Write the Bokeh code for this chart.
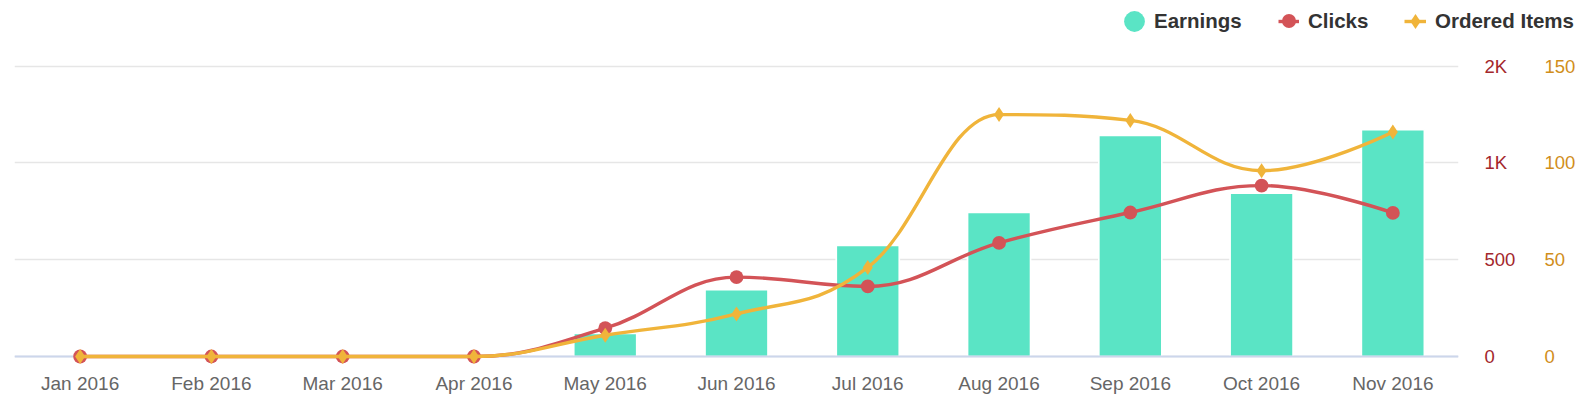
from bokeh.plotting import figure
from bokeh.models import Range1d, LinearAxis, FixedTicker, Legend, LegendItem
from bokeh.embed import file_html
from bokeh.resources import INLINE

# ---------------- data ----------------
months = ["Jan 2016", "Feb 2016", "Mar 2016", "Apr 2016", "May 2016", "Jun 2016",
          "Jul 2016", "Aug 2016", "Sep 2016", "Oct 2016", "Nov 2016"]
earnings = [0, 0, 0, 0, 23.8, 69.2, 114.7, 148.8, 228.4, 168.8, 234.3]
clicks = [0, 0, 0, 0, 146, 410, 362, 587, 744, 883, 742]
ordered_items = [0, 0, 0, 0, 11, 22, 46, 125, 122, 96, 116]

clicks_ticks = [0, 500, 1000, 1500]
clicks_tick_labels = ["0", "500", "1K", "2K"]
items_ticks = [0, 50, 100, 150]
items_tick_labels = ["0", "50", "100", "150"]

series_names = ["Earnings", "Clicks", "Ordered Items"]

# ---------------- styling ----------------
EARN_COLOR = "#5ae4c5"
CLICK_COLOR = "#d35357"
ITEM_COLOR = "#f0b43a"
CLICK_LABEL_COLOR = "#a3272c"
ITEM_LABEL_COLOR = "#d18e1b"
FONT = "Liberation Sans"

LEGEND_H = 40
FRAME_W, FRAME_H = 1444, 324
PX_PER_STEP = 96.77
PAD_BOTTOM = 8


def axis_range(step):
    per_px = step / PX_PER_STEP
    return Range1d(-PAD_BOTTOM * per_px, (FRAME_H - PAD_BOTTOM) * per_px)


def spline_segments(xs, ys, smoothing=1.5):
    """Highcharts-style spline control points -> cubic bezier segments."""
    n = len(xs)
    denom = smoothing + 1
    left = [None] * n
    right = [None] * n
    for i in range(1, n - 1):
        px, py = xs[i], ys[i]
        lx, ly = xs[i - 1], ys[i - 1]
        nx, ny = xs[i + 1], ys[i + 1]
        lcx = (smoothing * px + lx) / denom
        lcy = (smoothing * py + ly) / denom
        rcx = (smoothing * px + nx) / denom
        rcy = (smoothing * py + ny) / denom
        if rcx != lcx:
            corr = ((rcy - lcy) * (rcx - px)) / (rcx - lcx) + py - rcy
            lcy += corr
            rcy += corr
        if lcy > ly and lcy > py:
            lcy = max(ly, py)
            rcy = 2 * py - lcy
        elif lcy < ly and lcy < py:
            lcy = min(ly, py)
            rcy = 2 * py - lcy
        if rcy > ny and rcy > py:
            rcy = max(ny, py)
            lcy = 2 * py - rcy
        elif rcy < ny and rcy < py:
            rcy = min(ny, py)
            lcy = 2 * py - rcy
        left[i] = (lcx, lcy)
        right[i] = (rcx, rcy)
    seg = dict(x0=[], y0=[], x1=[], y1=[], cx0=[], cy0=[], cx1=[], cy1=[])
    for i in range(1, n):
        sx, sy = xs[i - 1], ys[i - 1]
        ex, ey = xs[i], ys[i]
        c0 = right[i - 1] if right[i - 1] is not None else (sx, sy)
        c1 = left[i] if left[i] is not None else (ex, ey)
        seg["x0"].append(sx); seg["y0"].append(sy)
        seg["x1"].append(ex); seg["y1"].append(ey)
        seg["cx0"].append(c0[0]); seg["cy0"].append(c0[1])
        seg["cx1"].append(c1[0]); seg["cy1"].append(c1[1])
    return seg


xs = list(range(len(months)))

# ================= main chart =================
p = figure(frame_width=FRAME_W, frame_height=FRAME_H,
           x_range=Range1d(-0.5, len(months) - 0.5),
           y_range=axis_range(500),
           y_axis_location="right",
           output_backend="svg", toolbar_location=None,
           min_border_left=14, min_border_right=0, min_border_top=0, min_border_bottom=53,
           background_fill_color="white", border_fill_color="white")
p.outline_line_color = None
p.extra_y_ranges = {"items": axis_range(50), "earn": axis_range(100)}

p.xgrid.visible = False
p.ygrid.ticker = FixedTicker(ticks=clicks_ticks)
p.ygrid.grid_line_color = "#e6e6e6"
p.ygrid.grid_line_width = 1.7

xa = p.xaxis[0]
xa.ticker = FixedTicker(ticks=xs)
xa.major_label_overrides = {i: m for i, m in enumerate(months)}
xa.axis_line_color = None
xa.major_tick_line_color = None
xa.minor_tick_line_color = None
xa.major_label_standoff = 2
xa.major_label_text_font = FONT
xa.major_label_text_font_size = "19px"
xa.major_label_text_color = "#666666"

ca = p.yaxis[0]
ca.ticker = FixedTicker(ticks=clicks_ticks)
ca.major_label_overrides = {t: l for t, l in zip(clicks_ticks, clicks_tick_labels)}
ca.axis_line_color = None
ca.major_tick_line_color = None
ca.minor_tick_line_color = None
ca.major_label_standoff = 20
ca.major_label_text_font = FONT
ca.major_label_text_font_size = "18.5px"
ca.major_label_text_color = CLICK_LABEL_COLOR

ia = LinearAxis(y_range_name="items", ticker=FixedTicker(ticks=items_ticks))
ia.major_label_overrides = {t: l for t, l in zip(items_ticks, items_tick_labels)}
ia.axis_line_color = None
ia.major_tick_line_color = None
ia.minor_tick_line_color = None
ia.major_label_standoff = 20
ia.major_label_text_font = FONT
ia.major_label_text_font_size = "18.5px"
ia.major_label_text_color = ITEM_LABEL_COLOR
p.add_layout(ia, "right")

bx = [x for x, e in zip(xs, earnings) if e > 0]
be = [e for e in earnings if e > 0]
p.vbar(x=bx, top=be, bottom=0, width=0.48, y_range_name="earn",
       fill_color=EARN_COLOR, line_color="white", line_width=1.7)

p.hspan(y=[0], line_color="#ccd6eb", line_width=2)

cseg = spline_segments(xs, clicks)
p.bezier(**cseg, line_color=CLICK_COLOR, line_width=3.4, line_cap="round")
p.scatter(xs, clicks, marker="circle", size=13.8, fill_color=CLICK_COLOR, line_color=None)

iseg = spline_segments(xs, ordered_items)
p.bezier(**iseg, y_range_name="items", line_color=ITEM_COLOR, line_width=3.4, line_cap="round")
p.scatter(xs, ordered_items, y_range_name="items", marker="diamond", size=15,
          fill_color=ITEM_COLOR, line_color=None)

# ================= legend strip (separate root, so not frame-aligned) =================
lf = figure(width=1586, height=LEGEND_H, x_range=Range1d(0, 1586), y_range=Range1d(0, LEGEND_H),
            x_axis_location=None, y_axis_location=None,
            output_backend="svg", toolbar_location=None,
            min_border_left=0, min_border_right=0, min_border_top=0, min_border_bottom=0,
            background_fill_color="white", border_fill_color="white")
lf.outline_line_color = None
lf.xgrid.visible = False
lf.ygrid.visible = False

# proxy renderers that only supply the legend symbols (hidden in the strip)
earn_sym = lf.scatter([0], [0], marker="circle", fill_color=EARN_COLOR, line_color=None, visible=False)
click_ln = lf.line([0, 1], [0, 0], line_color=CLICK_COLOR, line_width=3.4, visible=False)
click_sym = lf.scatter([0], [0], marker="circle", fill_color=CLICK_COLOR, line_color=None, visible=False)
item_ln = lf.line([0, 1], [0, 0], line_color=ITEM_COLOR, line_width=3.4, visible=False)
item_sym = lf.scatter([0], [0], marker="diamond", fill_color=ITEM_COLOR, line_color=None, visible=False)

LEG_YC = LEGEND_H - 20.7


def add_legend(renderers, label, x0, gw, gh):
    lg = Legend(items=[LegendItem(label=label, renderers=renderers)],
                location=(x0, LEG_YC - gh / 2), orientation="horizontal",
                glyph_width=gw, glyph_height=gh, label_height=gh,
                label_standoff=0, padding=0, margin=0, spacing=0,
                border_line_color=None, background_fill_alpha=0,
                inactive_fill_alpha=0, click_policy="none",
                label_text_font=FONT, label_text_font_size="20.5px",
                label_text_font_style="bold", label_text_color="#333333")
    lf.add_layout(lg)


add_legend([earn_sym], " ", 1133.7 - 26, 52, 52)
add_legend([earn_sym], series_names[0], 1154, 0, 30)
add_legend([click_ln], " ", 1277.7, 21, 30)
add_legend([click_sym], " ", 1288 - 17.5, 35, 35)
add_legend([click_ln], series_names[1], 1308, 0, 30)
add_legend([item_ln], " ", 1404, 22, 30)
add_legend([item_sym], " ", 1415 - 19, 38, 38)
add_legend([item_ln], series_names[2], 1435, 0, 30)

open("out.html", "w").write(file_html([lf, p], INLINE))
